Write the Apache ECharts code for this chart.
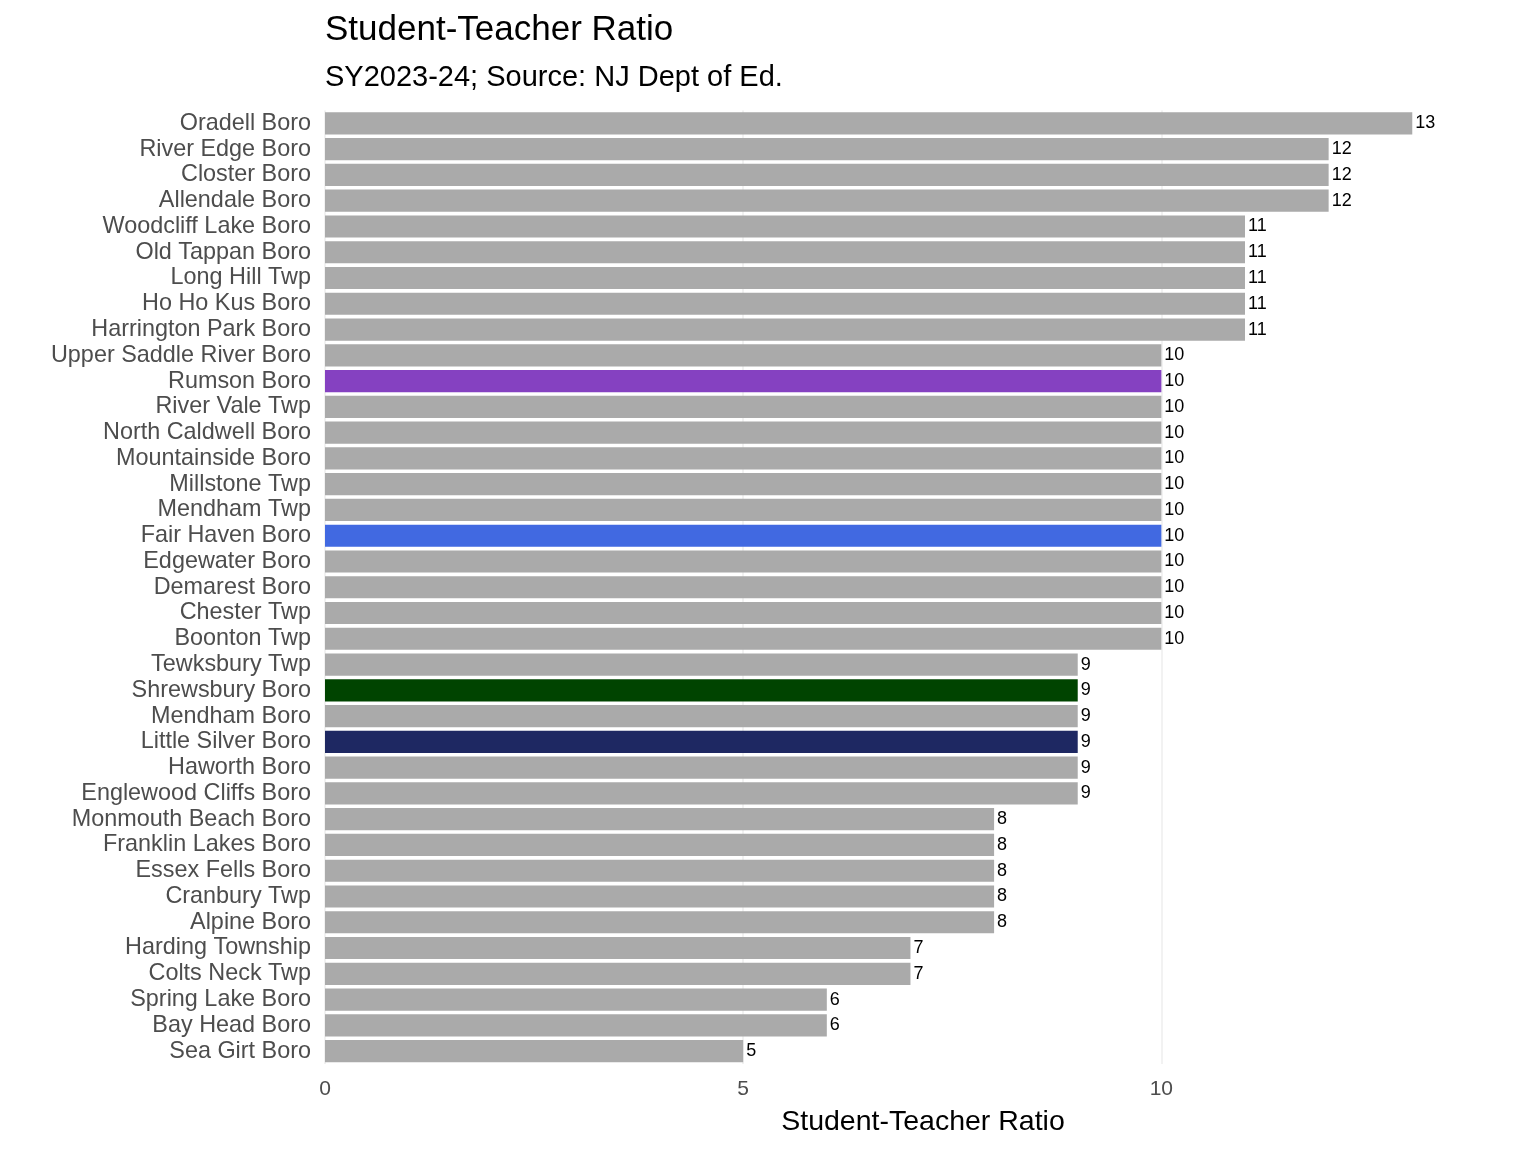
<!DOCTYPE html>
<html>
<head>
<meta charset="utf-8">
<script src="https://cdn.jsdelivr.net/npm/echarts@6/dist/echarts.min.js"></script>
<style>html,body{margin:0;padding:0;background:#fff}#c{width:1536px;height:1152px}</style>
</head>
<body>
<div id="c"></div>
<script>
const categories = ["Oradell Boro","River Edge Boro","Closter Boro","Allendale Boro","Woodcliff Lake Boro","Old Tappan Boro","Long Hill Twp","Ho Ho Kus Boro","Harrington Park Boro","Upper Saddle River Boro","Rumson Boro","River Vale Twp","North Caldwell Boro","Mountainside Boro","Millstone Twp","Mendham Twp","Fair Haven Boro","Edgewater Boro","Demarest Boro","Chester Twp","Boonton Twp","Tewksbury Twp","Shrewsbury Boro","Mendham Boro","Little Silver Boro","Haworth Boro","Englewood Cliffs Boro","Monmouth Beach Boro","Franklin Lakes Boro","Essex Fells Boro","Cranbury Twp","Alpine Boro","Harding Township","Colts Neck Twp","Spring Lake Boro","Bay Head Boro","Sea Girt Boro"];
const values = [13,12,12,12,11,11,11,11,11,10,10,10,10,10,10,10,10,10,10,10,10,9,9,9,9,9,9,8,8,8,8,8,7,7,6,6,5];
const xTicks = [0,5,10];
const highlight = {"Rumson Boro":"#8541C1","Fair Haven Boro":"#4169E1","Shrewsbury Boro":"#004400","Little Silver Boro":"#1E2862"};
const FONT = "Liberation Sans";
const chart = echarts.init(document.getElementById('c'));
chart.setOption({
  animation:false,
  backgroundColor:'#ffffff',
  title:[
    {text:'Student-Teacher Ratio',left:320,top:8,textStyle:{fontFamily:FONT,fontSize:35,fontWeight:'normal',color:'#000'}},
    {text:'SY2023-24; Source: NJ Dept of Ed.',left:320,top:58,textStyle:{fontFamily:FONT,fontSize:29,fontWeight:'normal',color:'#000'}}
  ],
  grid:{left:325,right:15,top:110.5,bottom:88,containLabel:false},
  xAxis:{
    type:'value',min:0,max:14.3,interval:5,
    name:'Student-Teacher Ratio',nameLocation:'middle',nameGap:44,
    nameTextStyle:{fontFamily:FONT,fontSize:28.5,color:'#000'},
    axisLine:{show:false},axisTick:{show:false},
    axisLabel:{fontFamily:FONT,fontSize:21,color:'#4d4d4d',margin:15,showMaxLabel:false,
      formatter:function(v){return xTicks.indexOf(v)>=0?String(v):'';}},
    splitLine:{show:true,showMaxLine:false,lineStyle:{color:'#f2f2f2',width:2}}
  },
  yAxis:{
    type:'category',data:categories,inverse:true,
    axisLine:{show:false},axisTick:{show:false},
    axisLabel:{interval:0,fontFamily:FONT,fontSize:23.4,color:'#4d4d4d',margin:14},
    splitLine:{show:false}
  },
  series:[{
    type:'bar',
    data:values.map(function(v,i){return {value:v,itemStyle:{color:highlight[categories[i]]||'#AAAAAA'}};}),
    barCategoryGap:'14%',
    label:{show:true,position:'right',distance:3,fontFamily:FONT,fontSize:18,color:'#000'}
  }]
});
</script>
</body>
</html>
